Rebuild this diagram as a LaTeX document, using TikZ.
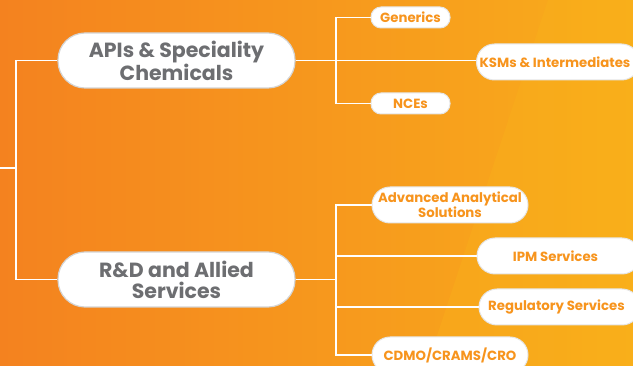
\documentclass[tikz,border=0pt]{standalone}
\usepackage{fontspec}
\setmainfont{Poppins}
\definecolor{bgL}{HTML}{F4821F}
\definecolor{bgR}{HTML}{F9AD1B}
\definecolor{bgY}{HTML}{FBB51A}
\definecolor{txtgray}{HTML}{6D6E71}
\definecolor{txtorange}{HTML}{F7941D}
\definecolor{pillline}{HTML}{D4D4D4}
\tikzset{
  bigpill/.style={draw=pillline, line width=1.2pt, fill=white, rounded corners=27pt,
    minimum width=237pt, minimum height=55pt, inner sep=0pt, align=center,
    text=txtgray, font=\fontsize{20.5}{21}\selectfont\bfseries},
  smallpill/.style={draw=pillline!60, line width=1pt, fill=white, rounded corners=10pt,
    minimum width=79pt, minimum height=21pt, inner sep=0pt, align=center,
    text=txtorange, font=\fontsize{13.3}{14}\selectfont\bfseries},
  midpill/.style={draw=pillline!60, line width=1pt, fill=white, rounded corners=18pt,
    minimum height=36pt, inner sep=0pt, align=center,
    text=txtorange, font=\fontsize{13.3}{13.5}\selectfont\bfseries},
  link/.style={draw=white, line width=1.8pt}
}
\begin{document}
\begin{tikzpicture}[x=1pt,y=-1pt]
\useasboundingbox (0,0) rectangle (633,366);
% background
\shade[left color=bgL, right color=bgR] (0,0) rectangle (633,366);
\fill[bgY, opacity=0.3] (548,0) -- (633,0) -- (633,366) -- (427,366) -- cycle;
% nodes
\node[bigpill] (api) at (176.5,60.5) {APIs \& Speciality\\Chemicals};
\node[bigpill] (rd) at (176.5,279.5) {R\&D and Allied\\Services};
\node[smallpill] (gen) at (410.5,17.5) {Generics};
\node[smallpill] (nce) at (410.5,103.5) {NCEs};
\node[midpill, minimum width=163pt] (ksm) at (558,62) {KSMs \& Intermediates\hspace*{6pt}};
\node[midpill, minimum width=156pt] (aas) at (450,205) {Advanced Analytical\\Solutions};
\node[midpill, minimum width=163pt] (ipm) at (558.5,256) {IPM Services\hspace*{6pt}};
\node[midpill, minimum width=161pt] (reg) at (559.5,307) {Regulatory Services\hspace*{6pt}};
\node[midpill, minimum width=156pt] (cdmo) at (450,355) {CDMO/CRAMS/CRO};
% coordinates
\coordinate (stub) at (0,168);
\coordinate (lv) at (16,168);
\coordinate (rt) at (336,60.5);
\coordinate (rb) at (336,279.5);
% connectors
\draw[link] (stub) -- (lv);
\draw[link] (api.west) -| (lv) |- (rd.west);
\draw[link] (api.east) -- (rt);
\draw[link] (gen.west) -| (rt) |- (nce.west);
\draw[link] (rt) -- (rt -| ksm.west);
\draw[link] (rd.east) -- (rb);
\draw[link] (aas.west) -| (rb) |- (cdmo.west);
\draw[link] (ipm.west -| rb) -- (ipm.west);
\draw[link] (reg.west -| rb) -- (reg.west);
\end{tikzpicture}
\end{document}
